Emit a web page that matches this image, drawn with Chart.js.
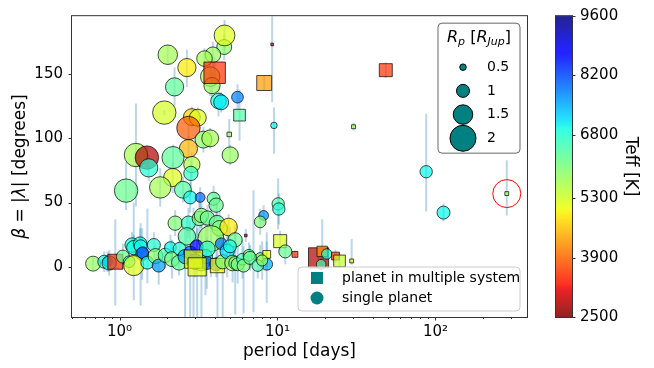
<!DOCTYPE html>
<html>
<head>
<meta charset="utf-8">
<script src="https://cdn.jsdelivr.net/npm/chart.js@4.4.0/dist/chart.umd.min.js"></script>
<style>
  html, body { margin: 0; padding: 0; background: #fff; }
  canvas { display: block; }
</style>
</head>
<body>
<canvas id="chart" width="654" height="368"></canvas>
<script>
// one entry per planet: orbital period, projected obliquity, radius, host Teff, multi-planet flag, error bars
const period = [2.02, 4.6, 4.62, 3.9, 3.45, 2.67, 3.75, 3.85, 4.0, 2.23,
  8.24, 9.25, 5.58, 4.23, 4.4, 5.75, 1.92, 9.5, 2.87, 3.13,
  2.73, 3.4, 3.75, 4.95, 2.73, 5.02, 1.27, 1.49, 1.53, 2.18,
  2.87, 2.17, 2.83, 1.1, 1.81, 2.52, 2.8, 3.24, 3.94, 4.09,
  2.25, 2.73, 3.2, 3.3, 3.6, 4.14, 4.3, 4.9, 2.67, 5.39,
  3.79, 8.17, 7.77, 10.1, 10.2, 6.3, 10.4, 12.9, 11.2, 7.05,
  7.77, 8.55, 8.55, 18.2, 19.2, 20.5, 18.9, 23.3, 24.7, 29.5,
  30.3, 48.5, 87.4, 112.5, 283, 0.68, 0.8, 0.84, 0.86, 0.94,
  1.05, 1.15, 1.2, 1.23, 1.35, 1.36, 1.39, 1.4, 1.23, 1.5,
  1.65, 1.69, 1.77, 1.95, 2.1, 2.15, 2.38, 2.4, 2.6, 2.8,
  3.08, 3.3, 3.5, 3.57, 3.6, 3.0, 4.1, 2.94, 3.1, 4.17,
  4.4, 4.5, 4.8, 5.0, 5.2, 5.4, 5.6, 6.0, 6.1, 6.6,
  6.7, 7.5, 8.0];
const beta = [165, 171, 180, 165, 162, 155, 148, 141, 151, 140,
  143, 173, 132, 129, 128, 118, 120, 110, 116.5, 116,
  108, 99, 100, 103, 92, 87, 87, 85, 77, 85,
  79.6, 69.5, 72.7, 59.3, 61.8, 60, 54, 54, 53, 48,
  34, 34, 37.6, 40, 38, 34, 30, 31, 23.7, 21,
  22, 40, 35, 49, 45, 24.4, 20, 9.7, 12, 7.6,
  7, 9.7, 2, 7, 12, 10, 2, 8.4, 4.6, 4.6,
  109, 153, 74, 42.2, 57, 2.5, 4, 4, 3, 4,
  8, 4, 17, 15, 18, 16, 10, 11, 1, 3.3,
  17, 8.4, 1, 9, 15, 6, 3.3, 14, 8, 11,
  16, 3, 8, 3, 14, 4, 2, 6, 0, 1,
  18, 4, 12, 16, 3, 3, 2, 6, 1, 9,
  7, 1, 5];
const radius = [1.5, 1.15, 1.6, 1.2, 1.2, 1.4, 1.5, 1.25, 1.65, 1.4,
  1.15, 0.2, 0.9, 1.2, 1.15, 0.9, 1.8, 0.5, 1.3, 1.3,
  1.8, 1.3, 1.3, 0.35, 1.4, 1.25, 1.8, 1.8, 1.4, 1.7,
  1.25, 1.4, 1.1, 1.8, 1.65, 1.3, 1.0, 0.75, 1.0, 1.1,
  1.1, 1.1, 1.1, 1.1, 1.1, 1.2, 1.2, 1.35, 1.35, 1.1,
  2.0, 0.75, 0.9, 0.95, 0.95, 0.2, 1.0, 0.45, 1.0, 0.3,
  0.8, 0.6, 0.9, 1.55, 0.8, 0.8, 0.75, 0.6, 0.9, 0.3,
  0.3, 1.0, 0.95, 1.0, 0.3, 1.15, 1.0, 0.75, 1.1, 1.15,
  1.0, 0.9, 1.1, 1.1, 1.05, 1.0, 1.0, 0.9, 1.55, 1.0,
  1.0, 1.15, 1.0, 1.1, 0.9, 1.15, 1.15, 1.0, 1.1, 1.0,
  1.0, 1.2, 1.1, 1.0, 1.2, 1.2, 1.0, 1.4, 1.4, 1.1,
  0.9, 1.1, 1.1, 1.0, 1.2, 1.0, 1.0, 0.9, 1.0, 0.9,
  1.0, 0.9, 0.85];
const teff = [5700, 5900, 5200, 5800, 5700, 4900, 5700, 5800, 3500, 6300,
  4300, 3000, 7800, 6900, 7100, 6400, 5300, 7000, 4700, 5200,
  3800, 5900, 5700, 5700, 4500, 5800, 5700, 2800, 6800, 6300,
  5600, 5200, 6700, 6200, 5700, 6400, 7000, 8000, 6300, 6200,
  6000, 6700, 6100, 6000, 6200, 6300, 6000, 4900, 6400, 6200,
  5800, 7700, 6000, 6500, 6800, 3000, 5200, 3500, 6200, 4000,
  6100, 5100, 7500, 2800, 4300, 6800, 6500, 3500, 5400, 5300,
  5600, 3500, 7000, 7000, 5800, 5800, 7000, 8300, 6900, 3400,
  6200, 6800, 6900, 6900, 7000, 7000, 7900, 8000, 5200, 6900,
  6800, 5900, 7600, 6500, 7000, 6100, 6300, 6800, 7600, 8100,
  8700, 6400, 7200, 8000, 6700, 8300, 8000, 5100, 5100, 5000,
  7900, 6000, 7200, 6900, 5700, 6200, 6100, 6600, 6000, 6000,
  6300, 6500, 5800];
const multi = [0, 0, 0, 0, 0, 0, 0, 0, 1, 0,
  1, 1, 0, 0, 0, 1, 0, 0, 0, 0,
  0, 0, 0, 1, 0, 0, 0, 0, 0, 0,
  0, 0, 0, 0, 0, 0, 0, 0, 0, 0,
  0, 0, 0, 0, 0, 0, 0, 0, 0, 0,
  0, 0, 0, 0, 0, 1, 1, 1, 0, 1,
  0, 1, 0, 1, 1, 0, 0, 1, 1, 1,
  1, 1, 0, 0, 1, 0, 0, 0, 0, 1,
  0, 0, 0, 0, 0, 0, 0, 0, 0, 0,
  0, 0, 0, 0, 0, 0, 0, 0, 0, 0,
  0, 0, 0, 0, 0, 0, 0, 1, 1, 1,
  0, 0, 0, 0, 0, 0, 0, 0, 0, 0,
  0, 0, 0];
const errLow = [8, 10, 12, 10, 8, 15, 15, 10, 12, 15,
  6, 45, 10, 12, 8, 20, 2, 22, 8, 8,
  10, 10, 8, 12, 10, 8, 40, 8, 10, 10,
  10, 12, 10, 15, 15, 10, 12, 8, 10, 10,
  10, 12, 15, 10, 10, 20, 15, 10, 15, 10,
  30, 8, 10, 20, 12, 5, 8, 3, 10, 43,
  10, 10, 30, 5, 12, 5, 5, 5, 5, 3,
  3, 6, 31, 7, 17, 5, 8, 8, 10, 34,
  10, 10, 10, 10, 12, 46, 20, 10, 27, 16,
  10, 10, 15, 10, 10, 15, 10, 10, 50, 55,
  20, 45, 30, 20, 15, 12, 10, 60, 45, 50,
  10, 45, 20, 15, 15, 40, 15, 15, 37, 10,
  10, 10, 15];
const errHigh = [8, 10, 12, 10, 8, 14, 15, 10, 12, 15,
  6, 45, 10, 12, 8, 20, 2, 14, 8, 8,
  10, 10, 8, 12, 10, 8, 40, 8, 10, 10,
  10, 12, 10, 22, 15, 10, 12, 8, 10, 10,
  10, 12, 15, 10, 10, 20, 15, 10, 15, 10,
  30, 8, 10, 20, 12, 5, 8, 3, 10, 52,
  10, 10, 25, 5, 25, 5, 5, 5, 5, 17,
  3, 6, 45, 7, 26, 5, 8, 8, 10, 33,
  10, 10, 10, 10, 12, 18, 20, 10, 49, 42,
  10, 10, 15, 10, 10, 15, 10, 10, 20, 25,
  20, 30, 30, 20, 15, 12, 10, 40, 30, 20,
  10, 25, 20, 15, 15, 30, 15, 15, 15, 10,
  10, 10, 15];

const xTicks = [0.5, 0.6, 0.7, 0.8, 0.9, 1, 2, 3, 4, 5, 6, 7, 8, 9,
  10, 20, 30, 40, 50, 60, 70, 80, 90, 100, 200, 300];
const xMajorLabels = { 1: '10⁰', 10: '10¹', 100: '10²' };
const yTicks = [0, 50, 100, 150];
const teffTicks = [2500, 3900, 5300, 6800, 8200, 9600];
const teffMin = 2500;
const teffMax = 9600;
const sizeLegend = [0.5, 1, 1.5, 2];
const highlightIdx = 74; // the long-period planet circled in red

const FONT = 'DejaVu Sans';
Chart.defaults.font.family = FONT;
Chart.defaults.color = '#000';

// matplotlib "jet"
function jet(t) {
  const interp = pts => {
    for (let k = 1; k < pts.length; k++) {
      if (t <= pts[k][0]) {
        const [x0, y0] = pts[k - 1], [x1, y1] = pts[k];
        return y0 + (y1 - y0) * (t - x0) / (x1 - x0);
      }
    }
    return pts[pts.length - 1][1];
  };
  const r = interp([[0, 0], [0.35, 0], [0.66, 1], [0.89, 1], [1, 0.5]]);
  const g = interp([[0, 0], [0.125, 0], [0.375, 1], [0.64, 1], [0.91, 0], [1, 0]]);
  const b = interp([[0, 0.5], [0.11, 1], [0.34, 1], [0.65, 0], [1, 0]]);
  return [r, g, b].map(v => Math.round(v * 255));
}
function teffColor(T, a) {
  const t = Math.min(1, Math.max(0, (teffMax - T) / (teffMax - teffMin)));
  const [r, g, b] = jet(t);
  return `rgba(${r},${g},${b},${a})`;
}
// marker size in px, squares get the same side as the circle diameter
const pxR = i => multi[i] ? 6.5 * radius[i] * Math.SQRT2 : 6.5 * radius[i];

function drawRich(ctx, parts, x, y) {
  let w = 0;
  parts.forEach(p => { ctx.font = p[1]; w += ctx.measureText(p[0]).width; });
  let cx = x - w / 2;
  parts.forEach(p => {
    ctx.font = p[1];
    ctx.fillText(p[0], cx, y + (p[2] || 0));
    cx += ctx.measureText(p[0]).width;
  });
}

function roundBox(ctx, x, y, w, h, r, stroke) {
  ctx.beginPath();
  ctx.roundRect(x, y, w, h, r);
  ctx.fillStyle = 'rgba(255,255,255,0.8)';
  ctx.fill();
  ctx.strokeStyle = stroke;
  ctx.lineWidth = 1;
  ctx.stroke();
}

const errorBars = {
  id: 'errorBars',
  beforeDatasetsDraw(chart) {
    const { ctx, chartArea: a, scales: { x, y } } = chart;
    ctx.save();
    ctx.beginPath();
    ctx.rect(a.left, a.top, a.right - a.left, a.bottom - a.top);
    ctx.clip();
    ctx.strokeStyle = 'rgba(31,119,180,0.3)';
    ctx.lineWidth = 2;
    period.forEach((p, i) => {
      const px = x.getPixelForValue(p);
      ctx.beginPath();
      ctx.moveTo(px, y.getPixelForValue(beta[i] - errLow[i]));
      ctx.lineTo(px, y.getPixelForValue(beta[i] + errHigh[i]));
      ctx.stroke();
    });
    ctx.restore();
  }
};

const decorations = {
  id: 'decorations',
  afterDraw(chart) {
    const { ctx, chartArea: a, scales: { x, y } } = chart;
    ctx.save();

    // spines
    ctx.strokeStyle = '#333';
    ctx.lineWidth = 1;
    ctx.strokeRect(a.left - 0.5, a.top - 0.5, a.right - a.left + 1, a.bottom - a.top + 1);

    // tick marks
    ctx.beginPath();
    xTicks.forEach(v => {
      const px = Math.round(x.getPixelForValue(v)) + 0.5;
      const len = xMajorLabels[v] ? 3.5 : 2;
      ctx.moveTo(px, a.bottom);
      ctx.lineTo(px, a.bottom + len);
    });
    yTicks.forEach(v => {
      const py = Math.round(y.getPixelForValue(v)) + 0.5;
      ctx.moveTo(a.left, py);
      ctx.lineTo(a.left - 3.5, py);
    });
    ctx.stroke();

    // axis titles
    ctx.fillStyle = '#000';
    ctx.textBaseline = 'middle';
    ctx.textAlign = 'left';
    drawRich(ctx, [['period [days]', `17px ${FONT}`]], (a.left + a.right) / 2, 352);
    ctx.save();
    ctx.translate(21, (a.top + a.bottom) / 2);
    ctx.rotate(-Math.PI / 2);
    drawRich(ctx, [
      ['β', `italic 17px ${FONT}`], [' = |', `17px ${FONT}`],
      ['λ', `italic 17px ${FONT}`], ['| [degrees]', `17px ${FONT}`]
    ], 0, 0);
    ctx.restore();

    // colour bar
    const cb = { left: a.right + 29, right: a.right + 45, top: a.top, bottom: a.bottom };
    const h = cb.bottom - cb.top;
    for (let k = 0; k < h; k++) {
      const T = teffMax - (k + 0.5) / h * (teffMax - teffMin);
      ctx.fillStyle = teffColor(T, 1);
      ctx.fillRect(cb.left, cb.top + k, cb.right - cb.left, 1);
    }
    ctx.strokeStyle = '#333';
    ctx.strokeRect(cb.left - 0.5, cb.top - 0.5, cb.right - cb.left + 1, h + 1);
    ctx.fillStyle = '#000';
    ctx.font = `15px ${FONT}`;
    teffTicks.forEach(T => {
      const py = cb.top + (teffMax - T) / (teffMax - teffMin) * h;
      ctx.beginPath();
      ctx.moveTo(cb.right, Math.round(py) + 0.5);
      ctx.lineTo(cb.right + 3.5, Math.round(py) + 0.5);
      ctx.stroke();
      ctx.fillText(String(T), cb.right + 8, py);
    });
    ctx.save();
    ctx.translate(630, (a.top + a.bottom) / 2);
    ctx.rotate(Math.PI / 2);
    drawRich(ctx, [['Teff [K]', `17px ${FONT}`]], 0, 0);
    ctx.restore();

    // size legend
    const lx = a.right - 89, ly = a.top + 7;
    roundBox(ctx, lx, ly, 82, 130, 4, '#666');
    ctx.fillStyle = '#000';
    drawRich(ctx, [
      ['R', `italic 16px ${FONT}`], ['p', `italic 11px ${FONT}`, 4],
      [' [', `16px ${FONT}`], ['R', `italic 16px ${FONT}`],
      ['Jup', `italic 11px ${FONT}`, 4], [']', `16px ${FONT}`]
    ], lx + 41, ly + 15);
    sizeLegend.forEach((s, k) => {
      const cy = ly + 44 + k * 23.7;
      ctx.beginPath();
      ctx.arc(lx + 25, cy, 6.5 * s, 0, Math.PI * 2);
      ctx.fillStyle = 'rgb(0,128,128)';
      ctx.fill();
      ctx.strokeStyle = '#000';
      ctx.stroke();
      ctx.fillStyle = '#000';
      ctx.font = `14px ${FONT}`;
      ctx.fillText(String(s), lx + 49, cy);
    });

    // marker legend
    const mx = a.left + 226, my = a.bottom - 50;
    roundBox(ctx, mx, my, 222, 44, 4, '#ccc');
    ctx.fillStyle = 'rgb(0,128,128)';
    ctx.fillRect(mx + 13, my + 5, 12, 12);
    ctx.beginPath();
    ctx.arc(mx + 19, my + 31, 6.5, 0, Math.PI * 2);
    ctx.fill();
    ctx.fillStyle = '#000';
    ctx.font = `14px ${FONT}`;
    ctx.fillText('planet in multiple system', mx + 44, my + 11);
    ctx.fillText('single planet', mx + 44, my + 31);

    // highlight ring
    ctx.beginPath();
    ctx.arc(x.getPixelForValue(period[highlightIdx]), y.getPixelForValue(beta[highlightIdx]), 14, 0, Math.PI * 2);
    ctx.strokeStyle = 'red';
    ctx.lineWidth = 1;
    ctx.stroke();

    ctx.restore();
  }
};

new Chart(document.getElementById('chart').getContext('2d'), {
  type: 'scatter',
  data: {
    datasets: [{
      data: period.map((p, i) => ({ x: p, y: beta[i] })),
      pointStyle: c => multi[c.dataIndex] ? 'rect' : 'circle',
      pointRadius: c => pxR(c.dataIndex),
      backgroundColor: c => teffColor(teff[c.dataIndex], 0.7),
      borderColor: 'rgba(0,0,0,0.7)',
      borderWidth: 1
    }]
  },
  options: {
    responsive: false,
    animation: false,
    events: [],
    layout: { padding: { left: 0, top: 11, right: 127, bottom: 0 } },
    plugins: { legend: { display: false }, tooltip: { enabled: false } },
    scales: {
      x: {
        type: 'logarithmic',
        min: 0.5,
        max: 380,
        grid: { display: false, drawTicks: false },
        border: { display: false },
        afterBuildTicks: s => { s.ticks = xTicks.map(v => ({ value: v })); },
        afterFit: s => { s.height = 51; s.paddingLeft = 0; s.paddingRight = 0; },
        ticks: {
          autoSkip: false,
          maxRotation: 0,
          padding: 6,
          font: { size: 15 },
          callback: v => xMajorLabels[v] || ''
        }
      },
      y: {
        min: -39,
        max: 195,
        grid: { display: false, drawTicks: false },
        border: { display: false },
        afterBuildTicks: s => { s.ticks = yTicks.map(v => ({ value: v })); },
        afterFit: s => { s.width = 72; s.paddingTop = 0; s.paddingBottom = 0; },
        ticks: { padding: 9, font: { size: 15 } }
      }
    }
  },
  plugins: [errorBars, decorations]
});
</script>
</body>
</html>
